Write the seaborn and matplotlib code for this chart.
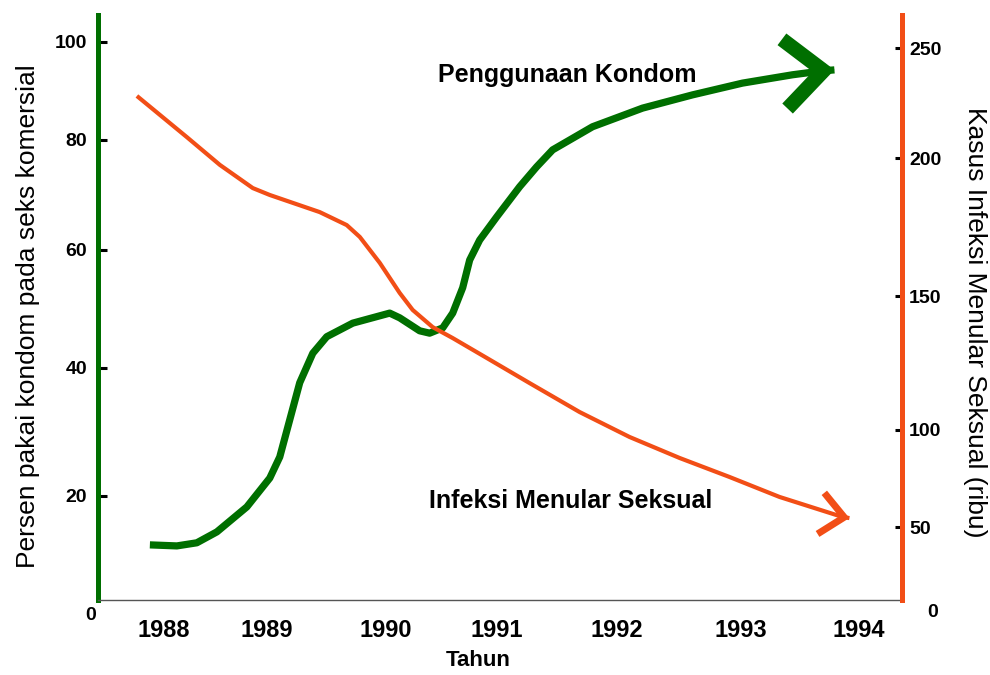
import numpy as np
import matplotlib
matplotlib.use("Agg")
import matplotlib.pyplot as plt
import seaborn as sns

# condom use (%)
kondom_tahun = [1987.864, 1988.126, 1988.320, 1988.515, 1988.806, 1989.025, 1989.109,
                1989.193, 1989.277, 1989.387, 1989.504, 1989.723, 1990.036, 1990.126,
                1990.306, 1990.396, 1990.514, 1990.604, 1990.694, 1990.757, 1990.847,
                1991.000, 1991.192, 1991.333, 1991.467, 1991.800, 1992.210, 1992.613,
                1993.017, 1993.441, 1993.695, 1993.797]
kondom_persen = [10.6, 10.4, 11.0, 13.1, 17.9, 22.8, 26.1,
                 31.9, 37.7, 42.5, 45.3, 47.6, 49.3, 48.5,
                 46.3, 45.9, 46.8, 49.3, 53.6, 58.3, 61.8,
                 66.0, 71.5, 75.1, 78.2, 82.7, 86.5, 89.2,
                 91.6, 93.3, 94.1, 94.3]

# sexually transmitted infection cases (thousands), orange curve
ims_tahun = [1987.738, 1988.223, 1988.544, 1988.864, 1989.025, 1989.445, 1989.672,
             1989.782, 1989.950, 1990.126, 1990.243, 1990.423, 1990.604, 1990.910,
             1991.275, 1991.692, 1992.105, 1992.508, 1992.911, 1993.331, 1993.864,
             1993.924]
ims_kasus = [228.2, 209.5, 197.5, 189.1, 186.6, 180.4, 175.7,
             171.4, 162.0, 151.1, 144.8, 138.4, 134.3, 126.9,
             117.5, 106.7, 96.4, 85.6, 75.8, 65.5, 55.2,
             54.6]

tahun_ticks = [1988, 1989, 1990, 1991, 1992, 1993, 1994]
persen_ticks = [20, 40, 60, 80, 100]
kasus_ticks = [50, 100, 150, 200, 250]

GREEN = "#006f00"
ORANGE = "#f24e16"

# the original drawing has uneven tick spacing; reproduce it with function scales
x_knots = ([1988, 1989, 1990, 1991, 1992, 1993, 1994], [164, 267, 386, 497, 617, 741, 859])
left_knots = ([0, 20, 40, 60, 80, 100], [0, 104, 232, 350, 460, 558])
right_knots = ([0, 50, 100, 150, 200, 250], [0, 73, 170, 304, 442, 552])


def piecewise(xp, fp):
    xp = np.asarray(xp, float)
    fp = np.asarray(fp, float)

    def f(v):
        v = np.asarray(v, float)
        out = np.interp(v, xp, fp)
        lo = fp[0] + (v - xp[0]) * (fp[1] - fp[0]) / (xp[1] - xp[0])
        hi = fp[-1] + (v - xp[-1]) * (fp[-1] - fp[-2]) / (xp[-1] - xp[-2])
        return np.where(v < xp[0], lo, np.where(v > xp[-1], hi, out))
    return f


def scale_of(knots):
    a, b = knots
    return piecewise(a, b), piecewise(b, a)


sns.set_style("white")
plt.rcParams["font.family"] = ["Liberation Sans", "DejaVu Sans"]
plt.rcParams["text.color"] = "black"
plt.rcParams["axes.labelcolor"] = "black"
plt.rcParams["xtick.color"] = "black"
plt.rcParams["ytick.color"] = "black"

fig = plt.figure(figsize=(9.9, 6.75), dpi=100)
ax = fig.add_axes([98 / 990, 75 / 675, 804 / 990, 585 / 675])
ax2 = ax.twinx()

ax.set_xscale("function", functions=scale_of(x_knots))
ax.set_yscale("function", functions=scale_of(left_knots))
ax2.set_yscale("function", functions=scale_of(right_knots))

sns.lineplot(x=kondom_tahun, y=kondom_persen, ax=ax, color=GREEN, linewidth=5.2,
             estimator=None, sort=False, solid_capstyle="butt", solid_joinstyle="round")
sns.lineplot(x=ims_tahun, y=ims_kasus, ax=ax2, color=ORANGE, linewidth=3,
             estimator=None, sort=False, solid_capstyle="butt", solid_joinstyle="round")

# open chevron heads at the end of each curve
ax.annotate("", xy=(kondom_tahun[-1], kondom_persen[-1]),
            xytext=(kondom_tahun[-2], kondom_persen[-2]),
            arrowprops=dict(arrowstyle="->,head_length=2.8,head_width=2.5", mutation_scale=10,
                            color=GREEN, lw=10.5, shrinkA=0, shrinkB=0,
                            joinstyle="miter", capstyle="butt"))
ax2.annotate("", xy=(ims_tahun[-1], ims_kasus[-1]),
             xytext=(ims_tahun[-2], ims_kasus[-2]),
             arrowprops=dict(arrowstyle="->,head_length=1.7,head_width=1.5", mutation_scale=10,
                             color=ORANGE, lw=5, shrinkA=0, shrinkB=0,
                             joinstyle="miter", capstyle="butt"))

ax.set_xlim(1987.36, 1994.37)
ax.set_ylim(0, 105.5)
ax2.set_ylim(0, 265)

for a in (ax, ax2):
    a.spines["top"].set_visible(False)
    a.grid(False)
ax.spines["right"].set_visible(False)
ax2.spines["left"].set_visible(False)
ax2.spines["bottom"].set_visible(False)
ax.spines["left"].set_color(GREEN)
ax.spines["left"].set_linewidth(3.6)
ax2.spines["right"].set_color(ORANGE)
ax2.spines["right"].set_linewidth(3.6)
ax.spines["bottom"].set_color("#555555")
ax.spines["bottom"].set_linewidth(1.0)

ax.set_xticks(tahun_ticks)
ax.set_xticklabels([str(t) for t in tahun_ticks])
ax.set_yticks(persen_ticks)
ax.set_yticklabels([str(t) for t in persen_ticks])
ax2.set_yticks(kasus_ticks)
ax2.set_yticklabels([str(t) for t in kasus_ticks])

ax.tick_params(axis="x", direction="in", length=7, width=2.2, color="black",
               pad=14, labelsize=17)
ax.tick_params(axis="y", direction="in", length=6.5, width=2.2, color="black",
               pad=8, labelsize=14)
ax2.tick_params(axis="y", direction="in", length=5, width=2.2, color="black",
                pad=5, labelsize=14)
for lab in ax.get_xticklabels() + ax.get_yticklabels() + ax2.get_yticklabels():
    lab.set_fontweight("bold")

ax.annotate("0", xy=(0, 0), xycoords="axes fraction", xytext=(-5, -11),
            textcoords="offset points", ha="center", va="center",
            fontsize=14, fontweight="bold")
ax2.annotate("0", xy=(1, 0), xycoords="axes fraction", xytext=(22, -9),
             textcoords="offset points", ha="center", va="center",
             fontsize=14, fontweight="bold")

ax.set_xlabel("Tahun", fontsize=16, fontweight="bold")
ax.xaxis.set_label_coords(0.473, -0.085)
ax.set_ylabel("Persen pakai kondom pada seks komersial", fontsize=19,
              rotation=90, va="center", ha="center")
ax.yaxis.set_label_coords(-0.087, 0.485)
ax2.set_ylabel("Kasus Infeksi Menular Seksual (ribu)", fontsize=19,
               rotation=270, va="center", ha="center")
ax2.yaxis.set_label_coords(1.091, 0.475)

ax.text(1991.59, 93.3, "Penggunaan Kondom", fontsize=18, fontweight="bold",
        ha="center", va="center")
ax2.text(1991.62, 63.5, "Infeksi Menular Seksual", fontsize=18, fontweight="bold",
         ha="center", va="center")

fig.savefig("out.png", dpi=100)
